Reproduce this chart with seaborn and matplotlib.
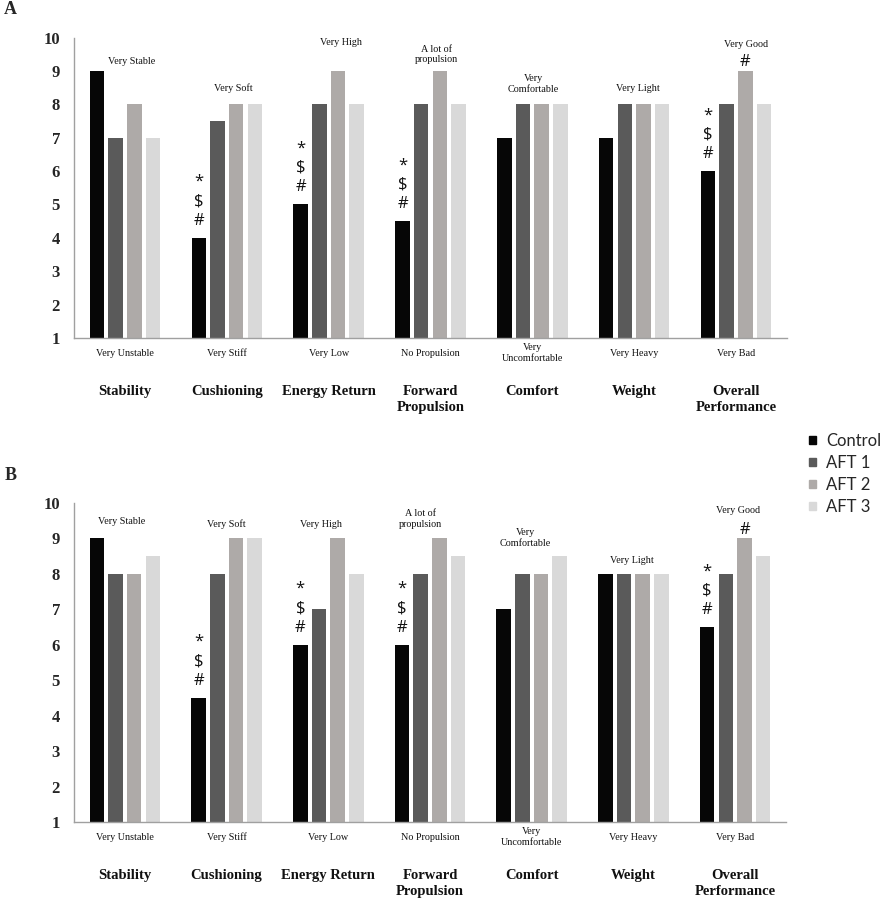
import numpy as np
import pandas as pd
import matplotlib
matplotlib.use("Agg")
import matplotlib.pyplot as plt
import seaborn as sns

# ---------------- data ----------------
categories = ["Stability", "Cushioning", "Energy Return", "Forward\nPropulsion",
              "Comfort", "Weight", "Overall\nPerformance"]
shoes = ["Control", "AFT 1", "AFT 2", "AFT 3"]
low_labels = ["Very Unstable", "Very Stiff", "Very Low", "No Propulsion",
              "Very\nUncomfortable", "Very Heavy", "Very Bad"]
high_labels = ["Very Stable", "Very Soft", "Very High", "A lot of\npropulsion",
               "Very\nComfortable", "Very Light", "Very Good"]
y_ticks = [1, 2, 3, 4, 5, 6, 7, 8, 9, 10]

a_control = [9, 4, 5, 4.5, 7, 7, 6]
a_aft1 = [7, 7.5, 8, 8, 8, 8, 8]
a_aft2 = [8, 8, 9, 9, 8, 8, 9]
a_aft3 = [7, 8, 8, 8, 8, 8, 8]

b_control = [9, 4.5, 6, 6, 7, 8, 6.5]
b_aft1 = [8, 8, 7, 8, 8, 8, 8]
b_aft2 = [8, 9, 9, 9, 8, 8, 9]
b_aft3 = [8.5, 9, 8, 8.5, 8.5, 8, 8.5]

# significance symbols: (category index, shoe index, symbols top->bottom)
sig_marks = [(1, 0, "*\n$\n#"), (2, 0, "*\n$\n#"), (3, 0, "*\n$\n#"),
             (6, 0, "*\n$\n#"), (6, 2, "#")]

# layout for anchor labels (y in data units, x shift in category units)
a_high_y = [9.28, 8.48, 9.85, 9.49, 8.61, 8.48, 9.79]
a_high_dx = [0.07, 0.06, 0.12, 0.06, 0.01, 0.04, 0.10]
b_high_y = [9.49, 9.41, 9.38, 9.55, 9.01, 8.39, 9.78]
b_high_dx = [-0.03, 0.0, -0.07, -0.09, -0.06, -0.02, 0.03]

colors = ["#060606", "#5a5a5a", "#aeaaa8", "#d9d9d9"]

sns.set_theme(style="white")
plt.rcParams["font.family"] = ["Liberation Serif", "DejaVu Serif"]

SERIF = "Liberation Serif"
SANS = "Lato"
SYM = "Open Sans"

fig = plt.figure(figsize=(8.86, 9.0), dpi=100)
ax_a = fig.add_axes([74 / 886, 1 - 338 / 900, 713 / 886, 300.5 / 900])
ax_b = fig.add_axes([74 / 886, 1 - 822 / 900, 712 / 886, 319 / 900])


def make_df(vals):
    rows = []
    for s, v in zip(shoes, vals):
        for c, x in zip(categories, v):
            rows.append({"category": c, "shoe": s, "value": x})
    return pd.DataFrame(rows)


def draw(ax, vals, high_y, high_dx):
    df = make_df(vals)
    sns.barplot(data=df, x="category", y="value", hue="shoe", order=categories,
                hue_order=shoes, palette=colors, width=0.733, gap=0.22,
                saturation=1, errorbar=None, ax=ax, linewidth=0)
    ax.set_ylim(1, 10)
    ax.set_xlim(-0.5, 6.5)
    ax.set_yticks(y_ticks)
    ax.set_yticklabels([str(t) for t in y_ticks], fontfamily=SERIF,
                       fontweight="bold", fontsize=12)
    ax.tick_params(axis="y", length=0, pad=10)
    ax.set_xticks([])
    ax.set_xlabel("")
    ax.set_ylabel("")
    for side in ["top", "right"]:
        ax.spines[side].set_visible(False)
    for side in ["left", "bottom"]:
        ax.spines[side].set_color("#a0a0a0")
        ax.spines[side].set_linewidth(1.0)
    if ax.get_legend() is not None:
        ax.get_legend().remove()

    for i, (cat, lo, hi) in enumerate(zip(categories, low_labels, high_labels)):
        ax.text(i + high_dx[i], high_y[i], hi, ha="center", va="center",
                fontfamily=SERIF, fontsize=7.3, color="#111111")
        ax.annotate(lo, xy=(i, 0), xycoords=("data", "axes fraction"),
                    xytext=(0, -10.8), textcoords="offset points",
                    ha="center", va="center", fontfamily=SERIF, fontsize=7.3,
                    color="#111111")
        ax.annotate(cat, xy=(i, 0), xycoords=("data", "axes fraction"),
                    xytext=(0, -33.8), textcoords="offset points",
                    ha="center", va="top", fontfamily=SERIF, fontsize=10.5,
                    fontweight="bold", color="#111111", linespacing=1.3)

    for ci, si, syms in sig_marks:
        rect = ax.containers[si][ci]
        x = rect.get_x() + rect.get_width() / 2
        top = rect.get_y() + rect.get_height()
        off = 6.5 if "\n" in syms else 0.3
        ax.annotate(syms, xy=(x, top), xycoords="data",
                    xytext=(0, off), textcoords="offset points",
                    ha="center", va="bottom", fontfamily=SYM,
                    fontsize=12, color="#111111", linespacing=1.285)


draw(ax_a, [a_control, a_aft1, a_aft2, a_aft3], a_high_y, a_high_dx)
draw(ax_b, [b_control, b_aft1, b_aft2, b_aft3], b_high_y, b_high_dx)

# legend
handles = [plt.Rectangle((0, 0), 1, 1, color=c) for c in colors]
fig.legend(handles, shoes, loc="upper left", bbox_to_anchor=(809 / 886, 1 - 433 / 900),
           frameon=False, prop={"family": SANS, "size": 12},
           handlelength=0.4, handleheight=0.4, handletextpad=0.62,
           labelspacing=0.36, borderpad=0, borderaxespad=0)

fig.text(10 / 886, 1 - 10 / 900, "A", ha="center", va="center",
         fontfamily=SERIF, fontweight="bold", fontsize=13)
fig.text(11 / 886, 1 - 476 / 900, "B", ha="center", va="center",
         fontfamily=SERIF, fontweight="bold", fontsize=13)

fig.savefig("out.png", dpi=100, facecolor="white")
